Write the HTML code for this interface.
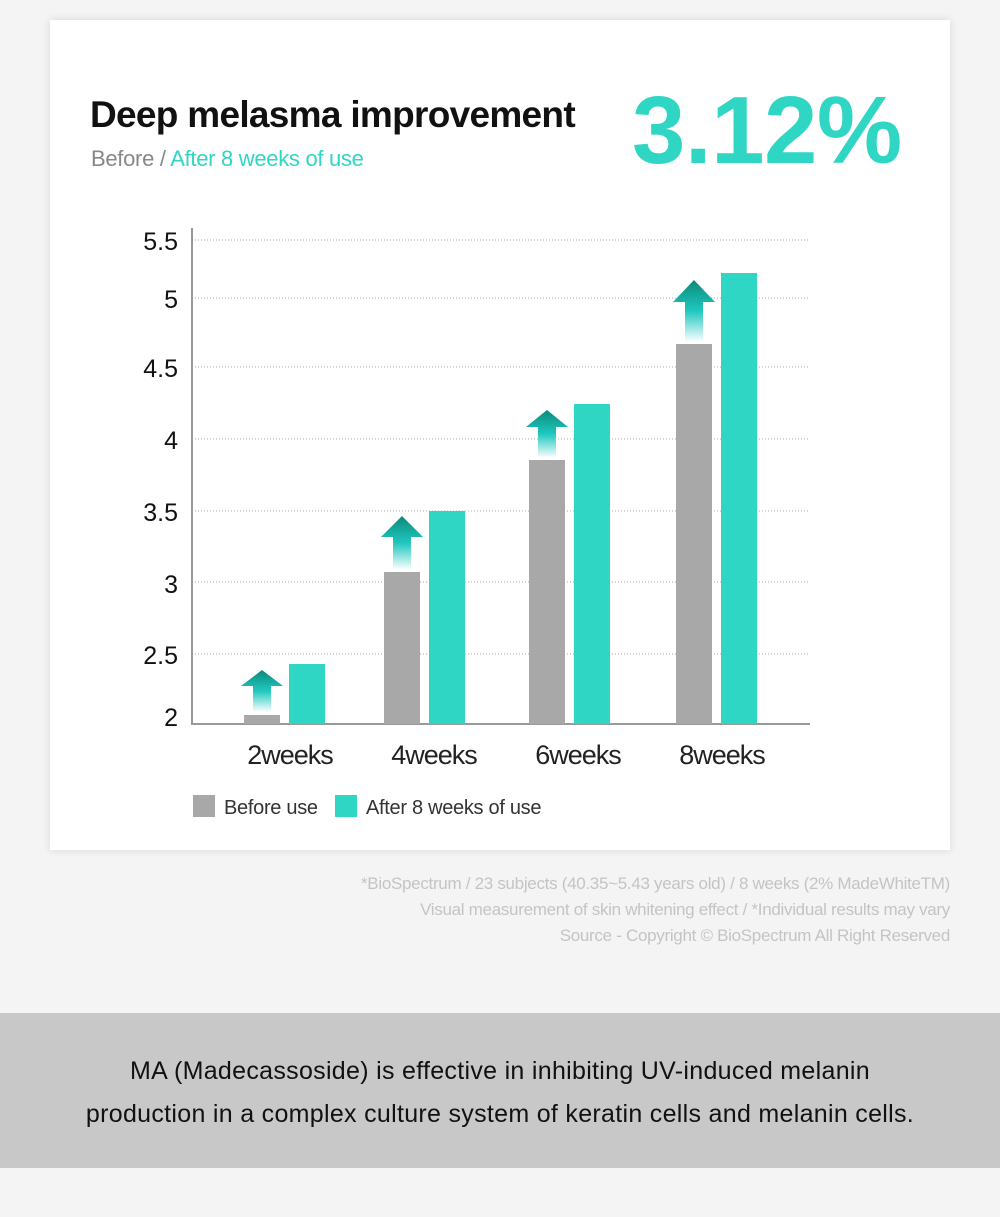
<!DOCTYPE html>
<html><head><meta charset="utf-8"><style>
body{margin:0;width:1000px;height:1217px;background:#f4f4f4;font-family:"Liberation Sans",sans-serif;position:relative;overflow:hidden}
.card{position:absolute;left:50px;top:20px;width:900px;height:830px;background:#fff;box-shadow:0 0 8px rgba(0,0,0,0.12)}
.a{position:absolute;white-space:nowrap}
</style></head><body>
<div class="card"></div>
<div class="a" style="left:90px;top:94px;font-size:37px;font-weight:bold;color:#111;letter-spacing:-0.7px">Deep melasma improvement</div>
<div class="a" style="left:91px;top:146px;font-size:22px;color:#888;letter-spacing:-0.3px">Before / <span style="color:#2fd6c3">After 8 weeks of use</span></div>
<div class="a" style="left:632px;top:76px;font-size:96px;font-weight:bold;color:#2fd6c3;letter-spacing:-0.5px">3.12%</div>
<svg class="a" style="left:0;top:0" width="1000" height="1000">
<defs><linearGradient id="g" x1="0" y1="0" x2="0" y2="1"><stop offset="0" stop-color="#0a8a7a"/><stop offset="0.5" stop-color="#20c8c0"/><stop offset="1" stop-color="#ffffff"/></linearGradient></defs>
<g stroke="#aaa" stroke-dasharray="1,2" stroke-width="1">
<line x1="192" x2="810" y1="240" y2="240"/><line x1="192" x2="810" y1="298" y2="298"/><line x1="192" x2="810" y1="367" y2="367"/><line x1="192" x2="810" y1="439" y2="439"/><line x1="192" x2="810" y1="511" y2="511"/><line x1="192" x2="810" y1="582" y2="582"/><line x1="192" x2="810" y1="654" y2="654"/></g>
<line x1="192" x2="192" y1="228" y2="725" stroke="#999" stroke-width="2"/>
<line x1="192" x2="810" y1="724" y2="724" stroke="#999" stroke-width="2"/>
<g font-size="25" fill="#111" text-anchor="end" font-family="Liberation Sans">
<text x="178" y="250">5.5</text><text x="178" y="308">5</text><text x="178" y="377">4.5</text><text x="178" y="449">4</text><text x="178" y="521">3.5</text><text x="178" y="593">3</text><text x="178" y="664">2.5</text><text x="178" y="726">2</text></g>
<g fill="#a8a8a8"><rect x="244" y="715" width="36" height="9"/><rect x="384" y="572" width="36" height="152"/><rect x="529" y="460" width="36" height="264"/><rect x="676" y="344" width="36" height="380"/></g>
<g fill="#2fd6c3"><rect x="289" y="664" width="36" height="60"/><rect x="429" y="511" width="36" height="213"/><rect x="574" y="404" width="36" height="320"/><rect x="721" y="273" width="36" height="451"/></g>
<g fill="url(#g)">
<path d="M262 670 L283 686 L271 686 L271 712 L253 712 L253 686 L241 686Z"/>
<path d="M402 516 L423 537 L411 537 L411 570 L393 570 L393 537 L381 537Z"/>
<path d="M547 410 L568 427 L556 427 L556 458 L538 458 L538 427 L526 427Z"/>
<path d="M694 280 L715 302 L703 302 L703 342 L685 342 L685 302 L673 302Z"/></g>
<g font-size="27" fill="#222" text-anchor="middle" font-family="Liberation Sans" letter-spacing="-1">
<text x="290" y="764">2weeks</text><text x="434" y="764">4weeks</text><text x="578" y="764">6weeks</text><text x="722" y="764">8weeks</text></g>
<rect x="193" y="795" width="22" height="22" fill="#a8a8a8"/><rect x="335" y="795" width="22" height="22" fill="#2fd6c3"/>
<g font-size="20" fill="#333" font-family="Liberation Sans" letter-spacing="-0.3"><text x="224" y="814">Before use</text><text x="366" y="814">After 8 weeks of use</text></g>
<g font-size="17" fill="#c4c4c4" text-anchor="end" font-family="Liberation Sans" letter-spacing="-0.3">
<text x="950" y="889">*BioSpectrum / 23 subjects (40.35~5.43 years old) / 8 weeks (2% MadeWhiteTM)</text>
<text x="950" y="915">Visual measurement of skin whitening effect / *Individual results may vary</text>
<text x="950" y="941">Source - Copyright © BioSpectrum All Right Reserved</text></g>
</svg>
<div class="a" style="left:0;top:1013px;width:1000px;height:155px;background:#c8c8c8"></div>
<div class="a" style="left:0;top:1050px;width:1000px;text-align:center;font-size:25px;line-height:43px;color:#111;letter-spacing:0.3px">MA (Madecassoside) is effective in inhibiting UV-induced melanin<br>production in a complex culture system of keratin cells and melanin cells.</div>
</body></html>
